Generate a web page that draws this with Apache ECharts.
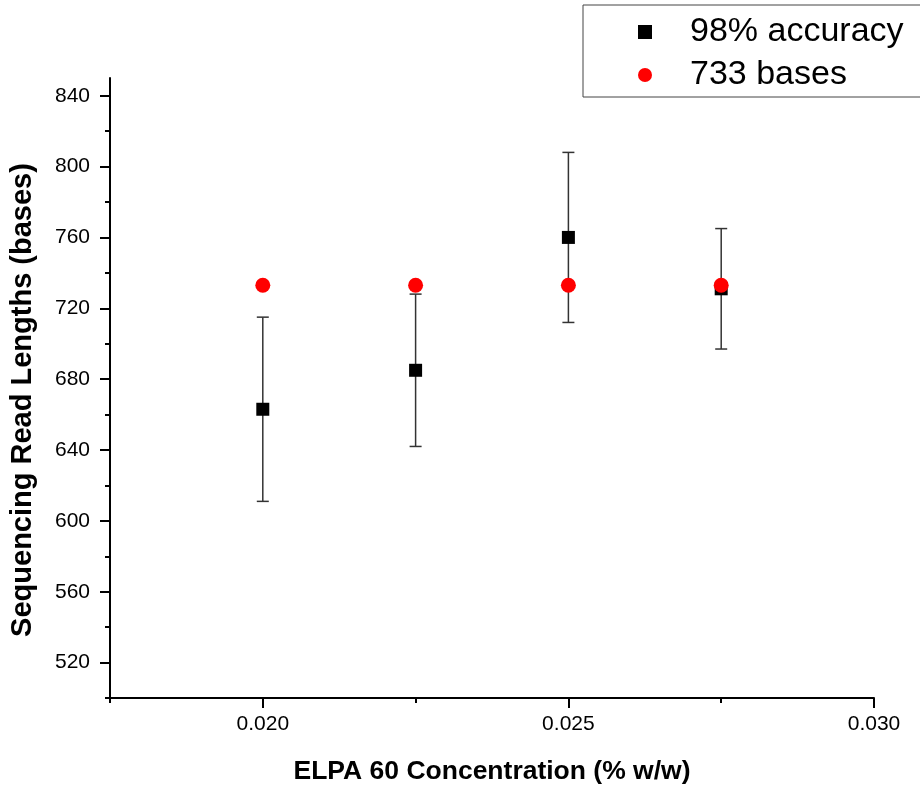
<!DOCTYPE html>
<html>
<head>
<meta charset="utf-8">
<script src="https://cdn.jsdelivr.net/npm/echarts@6/dist/echarts.min.js"></script>
<style>
  html, body { margin: 0; padding: 0; background: #fff; }
  #main { width: 920px; height: 787px; }
</style>
</head>
<body>
<div id="main"></div>
<script>
// values
var concentration = [0.020, 0.0225, 0.025, 0.0275];
var readLength98 = [663, 685, 760, 731];
var readLengthErr = [52, 43, 48, 34];
var bases733 = [733, 733, 733, 733];

var xMajorTicks = [0.020, 0.025, 0.030];
var xMinorTicks = [0.0175, 0.0225, 0.0275];
var yMajorTicks = [520, 560, 600, 640, 680, 720, 760, 800, 840];
var yMinorTicks = [500, 540, 580, 620, 660, 700, 740, 780, 820];

var font = "'Liberation Sans', Arial, sans-serif";

var chart = echarts.init(document.getElementById('main'));

var squareData = [], circleData = [], errData = [];
for (var i = 0; i < concentration.length; i++) {
	squareData.push([concentration[i], readLength98[i]]);
	circleData.push([concentration[i], bases733[i]]);
	errData.push([concentration[i], readLength98[i], readLengthErr[i]]);
}

function renderErr(params, api) {
	var x = api.value(0), y = api.value(1), e = api.value(2);
	var top = api.coord([x, y + e]);
	var bot = api.coord([x, y - e]);
	var w = 6;
	var st = { stroke: '#333', lineWidth: 1.5 };
	return {
		type: 'group',
		children: [
			{ type: 'line', shape: { x1: top[0], y1: top[1], x2: bot[0], y2: bot[1] }, style: st },
			{ type: 'line', shape: { x1: top[0] - w, y1: top[1], x2: top[0] + w, y2: top[1] }, style: st },
			{ type: 'line', shape: { x1: bot[0] - w, y1: bot[1], x2: bot[0] + w, y2: bot[1] }, style: st }
		]
	};
}

var option = {
	animation: false,
	backgroundColor: '#fff',
	legend: {
		orient: 'vertical',
		left: 583,
		top: 5,
		padding: [9, 60, 4, 55],
		borderColor: '#444',
		borderWidth: 1,
		itemWidth: 14,
		itemHeight: 14,
		itemGap: 7,
		textStyle: {
			fontFamily: font,
			fontSize: 34,
			color: '#000',
			lineHeight: 36,
			padding: [0, 0, 0, 33]
		},
		data: [
			{ name: '98% accuracy', icon: 'rect' },
			{ name: '733 bases', icon: 'circle' }
		]
	},
	grid: {
		left: 110,
		right: 46,
		top: 78,
		bottom: 89,
		outerBoundsMode: 'none'
	},
	xAxis: [
		{
			type: 'value',
			min: 0.0175,
			max: 0.030,
			name: 'ELPA 60 Concentration (% w/w)',
			nameLocation: 'middle',
			nameGap: 60,
			nameTextStyle: { fontFamily: font, fontSize: 26.5, fontWeight: 'bold', color: '#000' },
			axisLine: { lineStyle: { color: '#000', width: 2 } },
			axisTick: { length: 10, lineStyle: { color: '#000', width: 2 }, customValues: xMajorTicks },
			axisLabel: {
				customValues: xMajorTicks,
				fontFamily: font, fontSize: 21, color: '#000', margin: 16,
				formatter: function (v) { return v.toFixed(3); }
			},
			splitLine: { show: false }
		},
		{
			type: 'value',
			position: 'bottom',
			min: 0.0175,
			max: 0.030,
			axisLine: { show: false },
			axisTick: { length: 5, lineStyle: { color: '#000', width: 2 }, customValues: xMinorTicks },
			axisLabel: { show: false },
			splitLine: { show: false }
		}
	],
	yAxis: [
		{
			type: 'value',
			min: 500,
			max: 850,
			name: 'Sequencing Read Lengths (bases)',
			nameLocation: 'middle',
			nameGap: 73,
			nameTextStyle: {
				fontFamily: font, fontSize: 29, fontWeight: 'bold', color: '#000',
				padding: [0, 24, 0, 0]
			},
			axisLine: { show: true, lineStyle: { color: '#000', width: 2 } },
			axisTick: { show: true, length: 10, lineStyle: { color: '#000', width: 2 }, customValues: yMajorTicks },
			axisLabel: { customValues: yMajorTicks, fontFamily: font, fontSize: 21, color: '#000', margin: 20 },
			splitLine: { show: false }
		},
		{
			type: 'value',
			position: 'left',
			min: 500,
			max: 850,
			axisLine: { show: false },
			axisTick: { show: true, length: 5, lineStyle: { color: '#000', width: 2 }, customValues: yMinorTicks },
			axisLabel: { show: false },
			splitLine: { show: false }
		}
	],
	series: [
		{
			name: 'err',
			type: 'custom',
			renderItem: renderErr,
			encode: { x: 0, y: 1 },
			data: errData,
			z: 1
		},
		{
			name: '98% accuracy',
			type: 'scatter',
			symbol: 'rect',
			symbolSize: 13,
			itemStyle: { color: '#000', opacity: 1 },
			data: squareData,
			z: 2
		},
		{
			name: '733 bases',
			type: 'scatter',
			symbol: 'circle',
			symbolSize: 15,
			itemStyle: { color: '#ff0000', opacity: 1 },
			data: circleData,
			z: 3
		}
	]
};

chart.setOption(option);
</script>
</body>
</html>
